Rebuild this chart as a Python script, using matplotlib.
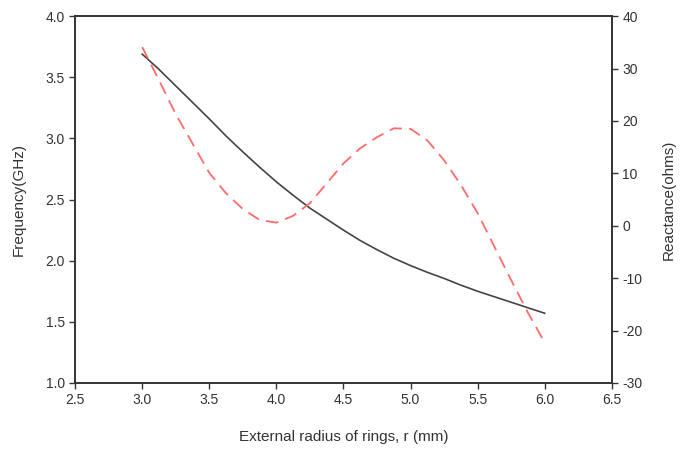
import numpy as np
import matplotlib.pyplot as plt

# readings
radius = [3.0, 3.125, 3.25, 3.375, 3.5, 3.625, 3.75, 3.875, 4.0, 4.125, 4.25, 4.375, 4.5,
          4.625, 4.75, 4.875, 5.0, 5.125, 5.25, 5.375, 5.5, 5.625, 5.75, 5.875, 6.0]
frequency = [3.69, 3.565, 3.43, 3.295, 3.16, 3.02, 2.89, 2.765, 2.645, 2.535, 2.43, 2.34, 2.25,
             2.165, 2.09, 2.02, 1.96, 1.905, 1.855, 1.80, 1.75, 1.705, 1.66, 1.615, 1.57]
reactance = [34.1, 27.8, 21.3, 15.7, 10.1, 6.2, 3.2, 1.1, 0.6, 1.9, 4.3, 8.1, 11.9,
             14.8, 16.9, 18.6, 18.5, 16.3, 12.5, 7.8, 2.4, -4.0, -10.4, -16.6, -22.3]

x_ticks = [2.5, 3.0, 3.5, 4.0, 4.5, 5.0, 5.5, 6.0, 6.5]
freq_ticks = [1.0, 1.5, 2.0, 2.5, 3.0, 3.5, 4.0]
react_ticks = [-30, -20, -10, 0, 10, 20, 30, 40]

plt.rcParams['font.family'] = ['Liberation Sans', 'DejaVu Sans']
plt.rcParams['axes.unicode_minus'] = False
txt = '#333333'

fig = plt.figure(figsize=(6.89, 4.5), dpi=100)
ax = fig.add_axes([0.109, 0.149, 0.779, 0.815])
ax2 = ax.twinx()

ax.plot(radius, frequency, color='#444444', lw=1.2)
ax2.plot(radius, reactance, color='#ff6b6b', lw=1.3, dashes=(7, 4))

ax.set_xlim(2.5, 6.5)
ax.set_ylim(1.0, 4.0)
ax2.set_ylim(-30, 40)
ax.set_xticks(x_ticks)
ax.set_xticklabels(['%.1f' % v for v in x_ticks])
ax.set_yticks(freq_ticks)
ax.set_yticklabels(['%.1f' % v for v in freq_ticks])
ax2.set_yticks(react_ticks)

for a in (ax, ax2):
    a.tick_params(direction='out', length=4, width=1, colors=txt, labelsize=10)
    for s in a.spines.values():
        s.set_color('#333333')
        s.set_linewidth(1.2)

ax.set_xlabel('External radius of rings, r (mm)', fontsize=11, color=txt, labelpad=16)
ax.set_ylabel('Frequency(GHz)', fontsize=11, color=txt, labelpad=14)
ax2.set_ylabel('Reactance(ohms)', fontsize=11, color=txt, labelpad=14, rotation=90)

fig.savefig('out.png', dpi=100)
